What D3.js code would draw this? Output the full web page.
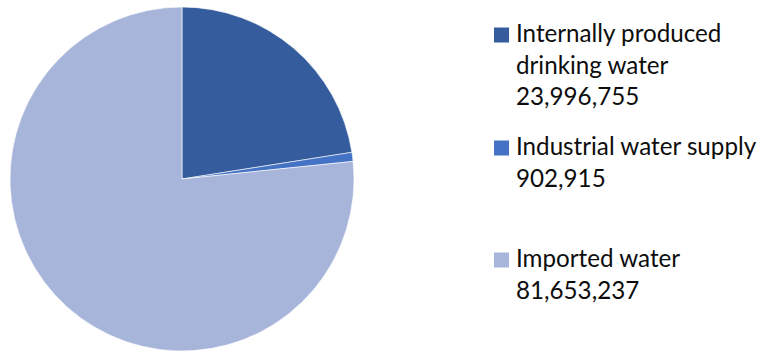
<!DOCTYPE html>
<html>
<head>
<meta charset="utf-8">
<script src="https://cdn.jsdelivr.net/npm/d3@7"></script>
<style>
  html, body { margin: 0; padding: 0; background: #fff; }
  svg { display: block; }
</style>
</head>
<body>
<svg id="chart" width="767" height="354"></svg>
<script>
// Water supply sources (m³)
const categories = ["Internally produced drinking water", "Industrial water supply", "Imported water"];
const values = [23996755, 902915, 81653237];
const legendLines = [
  ["Internally produced", "drinking water", "23,996,755"],
  ["Industrial water supply", "902,915"],
  ["Imported water", "81,653,237"]
];
const colors = ["#355D9E", "#4472C4", "#A8B5DA"];

const svg = d3.select("#chart");
const cx = 182, cy = 179, radius = 172;

const pie = d3.pie().sort(null).value(d => d)(values);
const arc = d3.arc().innerRadius(0).outerRadius(radius);
const color = d3.scaleOrdinal().domain(categories).range(colors);

svg.append("g")
  .attr("transform", `translate(${cx},${cy})`)
  .selectAll("path")
  .data(pie)
  .join("path")
  .attr("d", arc)
  .attr("fill", (d, i) => color(categories[i]))
  .attr("stroke", "#fff")
  .attr("stroke-width", 0.6);

// Legend
const legendTop = [42, 155, 267];
const lineH = 31.5;
const font = "Lato, 'Open Sans', sans-serif";
const legend = svg.append("g");
categories.forEach((c, i) => {
  const g = legend.append("g");
  g.append("rect")
    .attr("x", 494).attr("y", legendTop[i] - 14.5)
    .attr("width", 15).attr("height", 15)
    .attr("fill", color(c));
  legendLines[i].forEach((t, j) => {
    g.append("text")
      .attr("x", 516).attr("y", legendTop[i] + j * lineH)
      .attr("font-family", font)
      .attr("font-size", 24.2)
      .attr("fill", "#0d0d0d")
      .text(t);
  });
});
</script>
</body>
</html>
